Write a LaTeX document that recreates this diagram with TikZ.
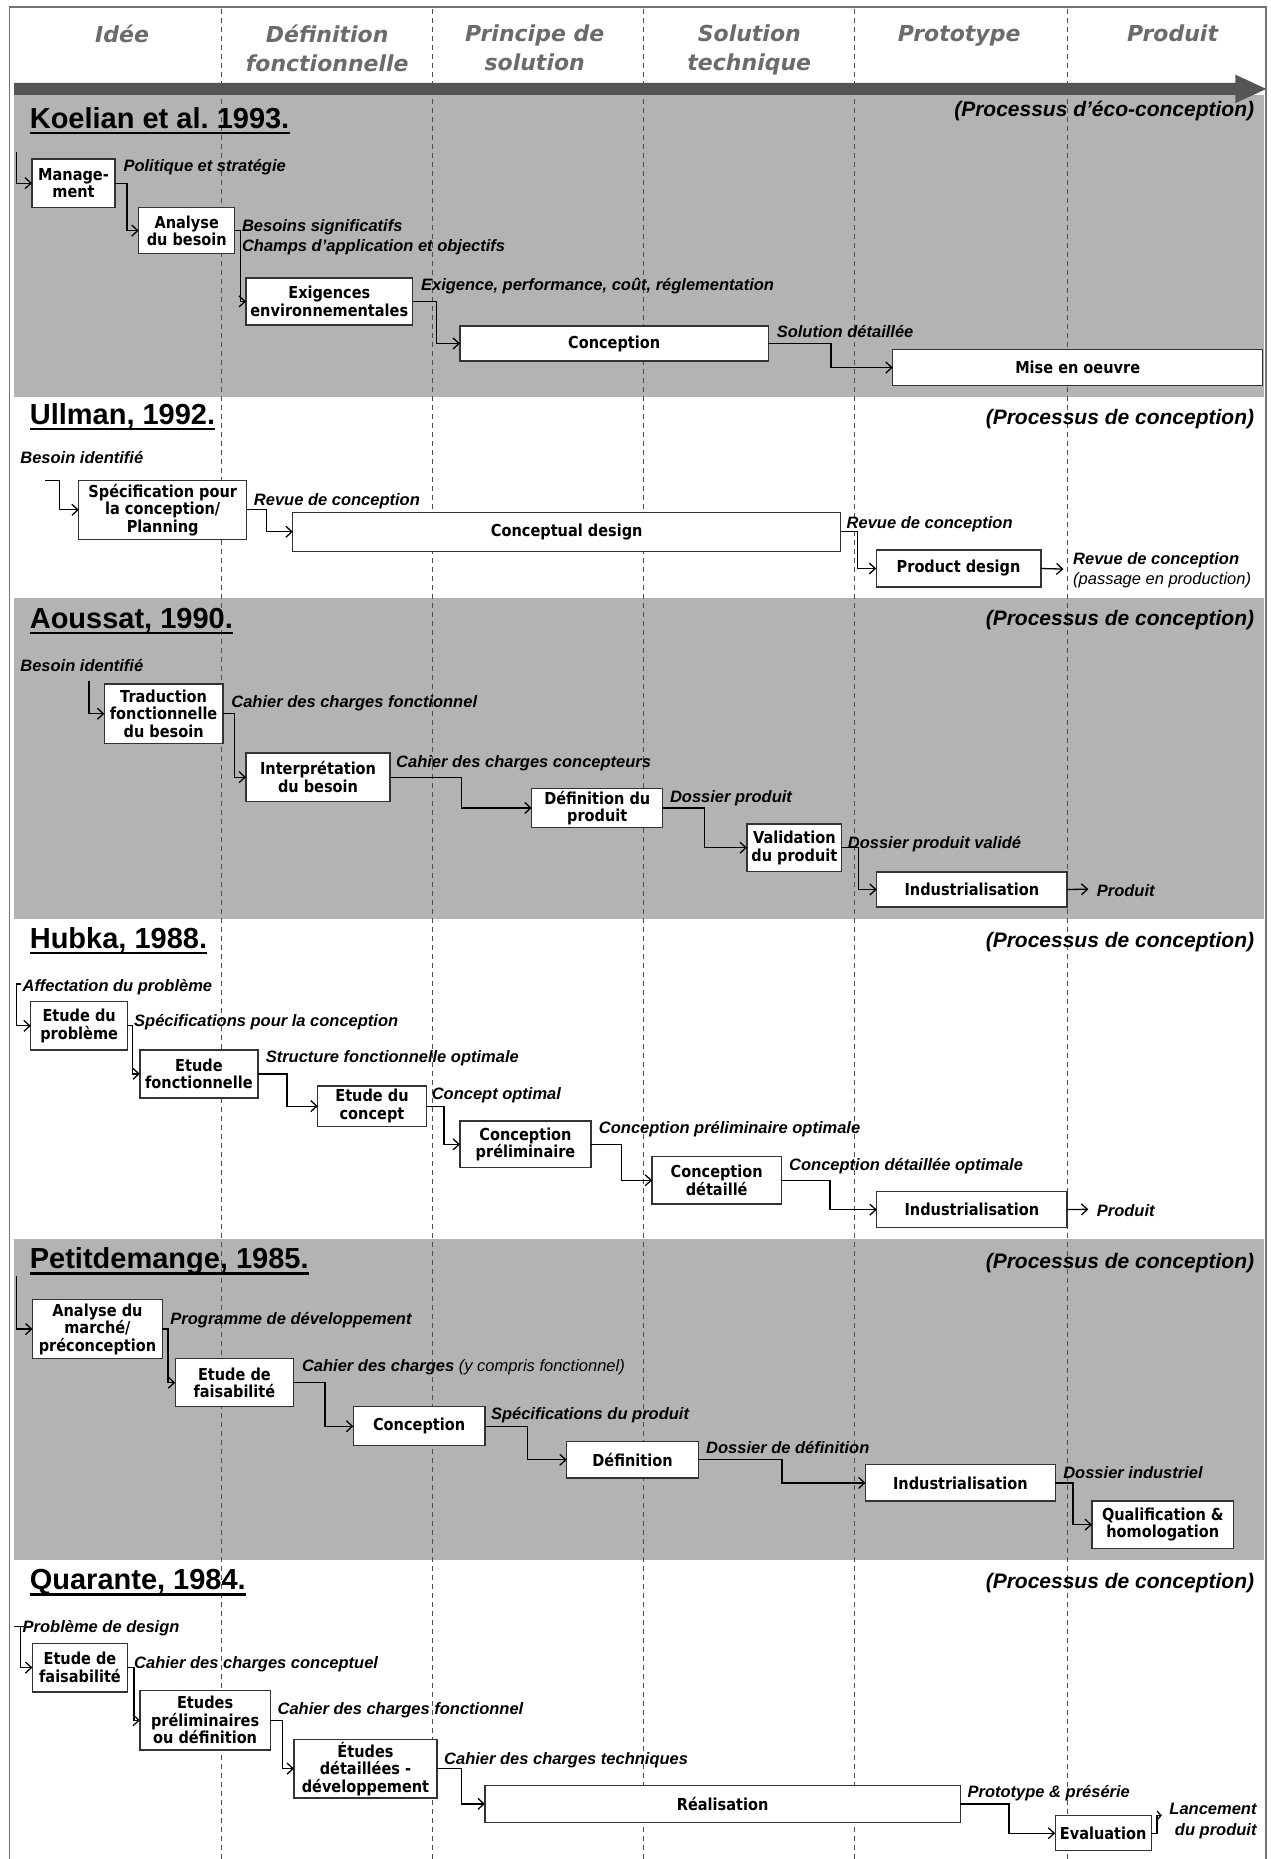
\documentclass[tikz,border=0pt]{standalone}
\usepackage{fontspec}
\setmainfont{Liberation Sans}
\newfontfamily\dvfont{DejaVu Sans}
\newfontfamily\bxfont{DejaVu Sans}[FakeStretch=0.88]
\usetikzlibrary{arrows.meta,calc}
\definecolor{bandgray}{RGB}{179,179,179}
\definecolor{arrowgray}{RGB}{85,85,85}
\tikzset{
 pbox/.style={draw=black!80, line width=1.3pt, fill=white, inner sep=0pt, outer sep=0pt, align=center, font=\bxfont\bfseries\fontsize{16.5}{17.5}\selectfont},
 conn/.style={line width=1.3pt, -{Straight Barb[length=6pt,width=11pt]}},
 lab/.style={font=\bfseries\itshape\fontsize{16.5}{18}\selectfont, inner sep=0pt, anchor=base west},
 labr/.style={font=\itshape\fontsize{16.5}{18}\selectfont, inner sep=0pt, anchor=base west},
 ttl/.style={font=\bfseries\fontsize{29}{32}\selectfont, inner sep=0pt, anchor=base west},
 proc/.style={font=\bfseries\itshape\fontsize{21}{24}\selectfont, inner sep=0pt, anchor=base east},
 hdr/.style={font=\dvfont\bfseries\itshape\fontsize{22}{29}\selectfont, text=black!58, align=center, inner sep=0pt, anchor=north},
 uline/.style={line width=2.4pt},
 phaseline/.style={draw=black!70, line width=1pt, dash pattern=on 5pt off 4pt},
}
\newcommand\pbx[6]{%
  \pgfmathsetmacro\pbxw{(#4-#2)*1.1857}%
  \pgfmathsetmacro\pbxh{(#5-#3)*1.1857}%
  \node[pbox, minimum width=\pbxw pt, minimum height=\pbxh pt] (#1) at ({(#2+#4)/2},{(#3+#5)/2}) {#6};}
\begin{document}
\frenchspacing
\begin{tikzpicture}[x=1.1857pt,y=-1.1857pt]
\useasboundingbox (0,0) rectangle (1072,1568);
\fill[white] (0,0) rectangle (1072,1568);
% bands
\fill[bandgray] (12,80) rectangle (1066,335);
\fill[bandgray] (12,504) rectangle (1066,775);
\fill[bandgray] (12,1045) rectangle (1066,1316);
% frame
\draw[black!55, line width=1.5pt] (8,1580) -- (8,6) -- (1068,6) -- (1068,1580);
% phase lines
\foreach \xx in {187,365,543,721,900} \draw[phaseline] (\xx,8) -- (\xx,1568);
% big arrow
\fill[arrowgray] (12,70) -- (1042,70) -- (1042,63) -- (1068,75) -- (1042,87) -- (1042,80) -- (12,80) -- cycle;
% headers
\node[hdr] (hd1) at (103,21) {Idée};
\node[hdr] (hd2) at (276,21) {Définition\\fonctionnelle};
\node[hdr] (hd3) at (451,21) {Principe de\\solution};
\node[hdr] (hd4) at (632,21) {Solution\\technique};
\node[hdr] (hd5) at (809,21) {Prototype};
\node[hdr] (hd6) at (989,21) {Produit};

% ---------- Koelian
\node[ttl] (t1) at (25,108) {Koelian et al. 1993.};
\draw[uline] ($(t1.base west)+(0,4)$) -- ($(t1.base east)+(0,4)$);
\node[proc] (p1) at (1058,98) {(Processus d’éco-conception)};
\coordinate (k0) at (14,128);
\pbx{kman}{27}{134}{97}{175}{Manage-\\ment}
\pbx{kana}{117}{175}{198}{214}{Analyse\\du besoin}
\pbx{kexi}{207.5}{234.5}{348}{274}{Exigences\\environnementales}
\pbx{kcon}{388}{275}{648}{304.5}{Conception}
\pbx{kmise}{753}{295}{1065}{325}{Mise en oeuvre}
\node[lab] (kl1) at (104,145) {Politique et stratégie};
\node[lab] (kl2) at (204,195) {Besoins significatifs};
\node[lab] (kl3) at (204,212) {Champs d’application et objectifs};
\node[lab] (kl4) at (355,245) {Exigence, performance, coût, réglementation};
\node[lab] (kl5) at (655,285) {Solution détaillée};
\draw[conn] (k0) |- (kman.west);
\draw[conn] (kman.east) -- ++(10,0) |- (kana.west);
\draw[conn] (kana.east) -- ++(5,0) |- (kexi.west);
\draw[conn] (kexi.east) -- ++(20,0) |- (kcon.west);
\draw[conn] (kcon.east) -- ++(53,0) |- (kmise.west);

% ---------- Ullman
\node[ttl] (t2) at (25,358) {Ullman, 1992.};
\draw[uline] ($(t2.base west)+(0,4)$) -- ($(t2.base east)+(0,4)$);
\node[proc] (p2) at (1058,358) {(Processus de conception)};
\node[lab] (ul0) at (17,391) {Besoin identifié};
\coordinate (u0) at (38,405);
\pbx{uspec}{66.5}{405}{208}{455}{Spécification pour\\la conception/\\Planning}
\pbx{ucd}{247}{432}{709}{465}{Conceptual design}
\pbx{upd}{739}{464}{878}{495}{Product design}
\coordinate (uout) at (897,480);
\node[lab] (ul1) at (214,426) {Revue de conception};
\node[lab] (ul2) at (714,446) {Revue de conception};
\node[lab] (ul3) at (905,476) {Revue de conception};
\node[labr] (ul4) at (905,493) {(passage en production)};
\draw[conn] (u0) -- ++(12,0) |- (uspec.west);
\draw[conn] (uspec.east) -- ++(17,0) |- (ucd.west);
\draw[conn] (ucd.east) -- ++(14,0) |- (upd.west);
\draw[conn] (upd.east) -- (uout);

% ---------- Aoussat
\node[ttl] (t3) at (25,530) {Aoussat, 1990.};
\draw[uline] ($(t3.base west)+(0,4)$) -- ($(t3.base east)+(0,4)$);
\node[proc] (p3) at (1058,528) {(Processus de conception)};
\node[lab] (al0) at (17,566) {Besoin identifié};
\coordinate (a0) at (75,574);
\pbx{atrad}{88}{577}{188}{627}{Traduction\\fonctionnelle\\du besoin}
\pbx{aint}{207.5}{635}{329}{676}{Interprétation\\du besoin}
\pbx{adef}{448.5}{665}{559}{698}{Définition du\\produit}
\pbx{aval}{630}{695}{710}{735}{Validation\\du produit}
\pbx{aind}{739.5}{735.5}{900}{765}{Industrialisation}
\coordinate (aout) at (918,750);
\node[lab] (al1) at (195,597) {Cahier des charges fonctionnel};
\node[lab] (al2) at (334,647) {Cahier des charges concepteurs};
\node[lab] (al3) at (565,677) {Dossier produit};
\node[lab] (al4) at (715,716) {Dossier produit validé};
\node[lab] (al5) at (925,756) {Produit};
\draw[conn] (a0) |- (atrad.west);
\draw[conn] (atrad.east) -- ++(10,0) |- (aint.west);
\draw[conn] (aint.east) -- ++(60,0) |- (adef.west);
\draw[conn] (adef.east) -- ++(35,0) |- (aval.west);
\draw[conn] (aval.east) -- ++(14,0) |- (aind.west);
\draw[conn] (aind.east) -- (aout);

% ---------- Hubka
\node[ttl] (t4) at (25,800) {Hubka, 1988.};
\draw[uline] ($(t4.base west)+(0,4)$) -- ($(t4.base east)+(0,4)$);
\node[proc] (p4) at (1058,799) {(Processus de conception)};
\node[lab] (hl0) at (19,836) {Affectation du problème};
\coordinate (h0) at (18,830);
\pbx{hep}{26}{845}{107.5}{885.5}{Etude du\\problème}
\pbx{hef}{118}{885.5}{217.5}{926}{Etude\\fonctionnelle}
\pbx{hec}{268}{916}{359.5}{950}{Etude du\\concept}
\pbx{hcp}{388}{945.5}{498.5}{985}{Conception\\préliminaire}
\pbx{hcd}{550}{975.5}{659}{1015.5}{Conception\\détaillé}
\pbx{hind}{739.5}{1005}{900}{1035.5}{Industrialisation}
\coordinate (hout) at (918,1020);
\node[lab] (hl1) at (113,866) {Spécifications pour la conception};
\node[lab] (hl2) at (224,896) {Structure fonctionnelle optimale};
\node[lab] (hl3) at (364,927) {Concept optimal};
\node[lab] (hl4) at (505,956) {Conception préliminaire optimale};
\node[lab] (hl5) at (665.5,987) {Conception détaillée optimale};
\node[lab] (hl6) at (925,1026) {Produit};
\draw[conn] (h0) -- ++(-4,0) |- (hep.west);
\draw[conn] (hep.east) -- ++(4,0) |- (hef.west);
\draw[conn] (hef.east) -- ++(24.5,0) |- (hec.west);
\draw[conn] (hec.east) -- ++(15,0) |- (hcp.west);
\draw[conn] (hcp.east) -- ++(25.5,0) |- (hcd.west);
\draw[conn] (hcd.east) -- ++(41,0) |- (hind.west);
\draw[conn] (hind.east) -- (hout);

% ---------- Petitdemange
\node[ttl] (t5) at (25,1070) {Petitdemange, 1985.};
\draw[uline] ($(t5.base west)+(0,4)$) -- ($(t5.base east)+(0,4)$);
\node[proc] (p5) at (1058,1070) {(Processus de conception)};
\coordinate (p0) at (14,1076);
\pbx{pam}{27.4}{1096}{137}{1146}{Analyse du\\marché/\\préconception}
\pbx{pefa}{147.8}{1146}{247.6}{1186.5}{Etude de\\faisabilité}
\pbx{pcon}{298}{1186.5}{409}{1219.5}{Conception}
\pbx{pdef}{478}{1216}{589}{1246.5}{Définition}
\pbx{pind}{730}{1235.5}{890}{1266}{Industrialisation}
\pbx{pqual}{921}{1266}{1040.5}{1306}{Qualification \&\\homologation}
\node[lab] (pl1) at (143.6,1117) {Programme de développement};
\node[lab] (pl2) at (254.6,1157) {Cahier des charges {\mdseries (y compris fonctionnel)}};
\node[lab] (pl3) at (414,1197) {Spécifications du produit};
\node[lab] (pl4) at (595.5,1226) {Dossier de définition};
\node[lab] (pl5) at (896.7,1247) {Dossier industriel};
\draw[conn] (p0) |- (pam.west);
\draw[conn] (pam.east) -- ++(4.7,0) |- (pefa.west);
\draw[conn] (pefa.east) -- ++(26.4,0) |- (pcon.west);
\draw[conn] (pcon.east) -- ++(36,0) |- (pdef.west);
\draw[conn] (pdef.east) -- ++(70.5,0) |- (pind.west);
\draw[conn] (pind.east) -- ++(15,0) |- (pqual.west);

% ---------- Quarante
\node[ttl] (t6) at (25,1341) {Quarante, 1984.};
\draw[uline] ($(t6.base west)+(0,4)$) -- ($(t6.base east)+(0,4)$);
\node[proc] (p6) at (1058,1340) {(Processus de conception)};
\node[lab] (ql0) at (19,1377) {Problème de design};
\coordinate (q0) at (17,1372);
\pbx{qef}{27.4}{1386}{107.5}{1427}{Etude de\\faisabilité}
\pbx{qep}{118}{1426}{228}{1476}{Etudes\\préliminaires\\ou définition}
\pbx{qed}{248}{1467}{368.5}{1516.5}{Études\\détaillées -\\développement}
\pbx{qre}{409}{1506}{810}{1537}{Réalisation}
\pbx{qev}{890}{1531.5}{971}{1561}{Evaluation}
\node[lab] (ql1) at (113,1407) {Cahier des charges conceptuel};
\node[lab] (ql2) at (234,1446) {Cahier des charges fonctionnel};
\node[lab] (ql3) at (374.5,1488) {Cahier des charges techniques};
\node[lab] (ql4) at (816,1516) {Prototype \& présérie};
\node[lab, anchor=east, align=right, font=\bfseries\itshape\fontsize{16.5}{21}\selectfont] (ql5) at (1060,1536) {Lancement\\du produit};
\draw[line width=1.3pt] (q0) ++(-5,0) -- ++(8,0);
\draw[conn] (q0) |- (qef.west);
\draw[conn] (qef.east) -- ++(5.5,0) |- (qep.west);
\draw[conn] (qep.east) -- ++(10,0) |- (qed.west);
\draw[conn] (qed.east) -- ++(20.5,0) |- (qre.west);
\draw[conn] (qre.east) -- ++(41,0) |- (qev.west);
\draw[line width=1.3pt, -{Straight Barb[length=4pt,width=9pt]}] (qev.east) -- ++(5,0) -- ++(0,-15) -- ++(4,0);
\end{tikzpicture}
\end{document}
